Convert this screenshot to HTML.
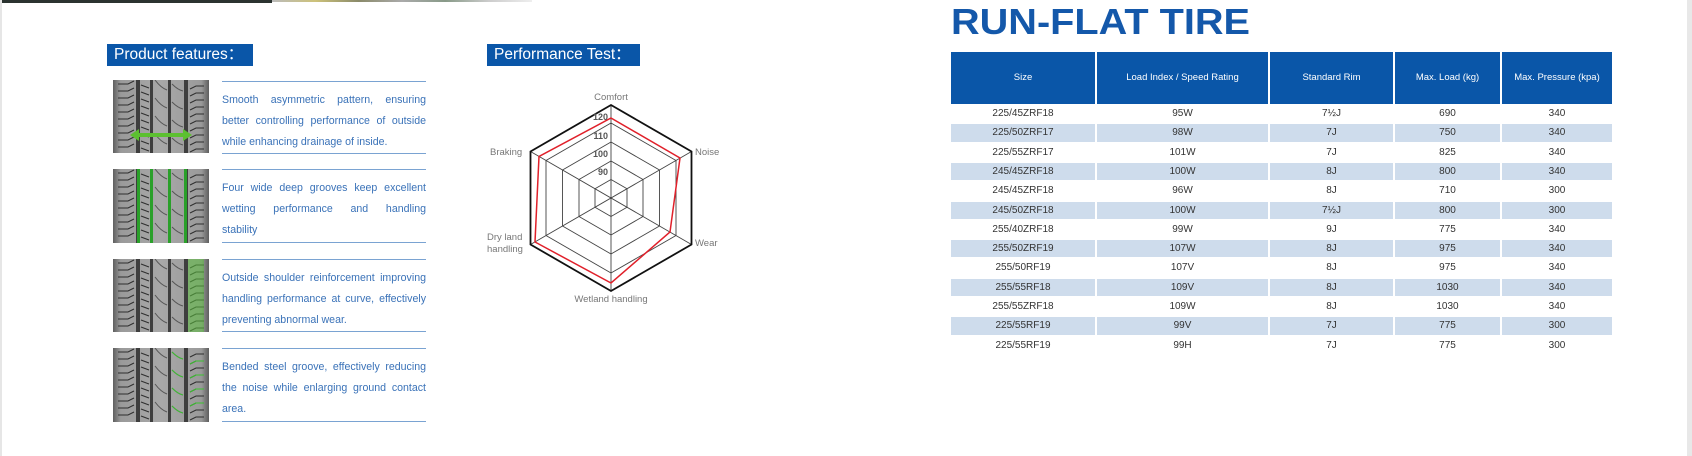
<!DOCTYPE html>
<html><head><meta charset="utf-8"><style>
*{margin:0;padding:0;box-sizing:border-box}
body{width:1692px;height:456px;background:#fff;position:relative;overflow:hidden;font-family:"Liberation Sans",Arial,sans-serif}
.abs{position:absolute}
.hdr{position:absolute;background:#0a56a8;color:#fff;font-size:15.5px;line-height:22px;padding-left:7px;height:22px}
.txt{position:absolute;left:222px;width:204px;border-top:1.5px solid #7aa3d2;border-bottom:1.5px solid #7aa3d2;color:#3a72b8;font-size:10.6px;line-height:21px;padding-top:8px}
.txt div{white-space:nowrap}
.txt .j{text-align:justify;text-align-last:justify;white-space:normal}
.tr{position:absolute;left:951px;width:661px;height:19.3px;font-size:10px;color:#333}
.tr div{position:absolute;top:0;height:100%;text-align:center;line-height:19px}
.sh div{background:#cedcec;top:1px;height:calc(100% - 2px);line-height:17px}
.c1{left:0;width:144px}.c2{left:146px;width:171px}.c3{left:319px;width:123px}.c4{left:444px;width:105px}.c5{left:551px;width:110px}
.th{position:absolute;top:52px;height:52px;background:#0a56a8;color:#fff;font-size:9.5px;text-align:center;line-height:52px}
</style></head><body>
<div class="abs" style="left:0;top:0;width:2px;height:456px;background:#e6e6e6"></div>
<div class="abs" style="left:1687px;top:0;width:5px;height:456px;background:#e8e8e8"></div>
<div class="abs" style="left:2px;top:0;width:270px;height:3px;background:#2b3330"></div>
<div class="abs" style="left:272px;top:0;width:260px;height:2px;background:linear-gradient(90deg,#bbb,#cdc27a,#8a8a6a,#aaa,#889a88,#ccc,#eee)"></div>

<svg width="0" height="0" style="position:absolute">
<defs>
<linearGradient id="tg" x1="0" x2="1"><stop offset="0" stop-color="#5e5e5e"/><stop offset=".08" stop-color="#9a9a9a"/><stop offset=".5" stop-color="#a8a8a8"/><stop offset=".92" stop-color="#9a9a9a"/><stop offset="1" stop-color="#5e5e5e"/></linearGradient>
<g id="tire">
<rect width="96" height="74" fill="url(#tg)"/>
<g fill="#3e3e3e"><rect x="23" width="4" height="74"/><rect x="37" width="3" height="74"/><rect x="55" width="3" height="74"/><rect x="71" width="4" height="74"/></g>
<g stroke="#2e2e2e" stroke-width="1" fill="none">
<path d="M5 4h10l6-3M5 11h10l6-3M5 18h10l6-3M5 25h10l6-3M5 32h10l6-3M5 39h10l6-3M5 46h10l6-3M5 53h10l6-3M5 60h10l6-3M5 67h10l6-3"/>
<path d="M91 6h-8l-6 3M91 13h-8l-6 3M91 20h-8l-6 3M91 27h-8l-6 3M91 34h-8l-6 3M91 41h-8l-6 3M91 48h-8l-6 3M91 55h-8l-6 3M91 62h-8l-6 3M91 69h-8l-6 3"/>
<path d="M28 5l8 3M28 12l8 3M28 19l8 3M28 26l8 3M28 33l8 3M28 40l8 3M28 47l8 3M28 54l8 3M28 61l8 3M28 68l8 3"/>
<path d="M42 0q6 8 12 10M42 18q6 8 12 10M42 36q6 8 12 10M42 54q6 8 12 10" stroke="#555"/>
<path d="M59 4q6 6 11 7M59 22q6 6 11 7M59 40q6 6 11 7M59 58q6 6 11 7" stroke="#555"/>
</g>
</g>
</defs></svg>

<div class="hdr" style="left:107px;top:44px;width:146px">Product features：</div>
<div class="hdr" style="left:487px;top:44px;width:153px">Performance Test：</div>

<svg class="abs" style="left:113px;top:80px" width="96" height="73"><use href="#tire"/>
<path d="M22 55h52" stroke="#5cc030" stroke-width="4"/><path d="M17 55l9-6v12zM79 55l-9-6v12z" fill="#5cc030"/></svg>
<svg class="abs" style="left:113px;top:169px" width="96" height="74"><use href="#tire"/>
<g fill="#2aa02a"><rect x="24" width="3" height="74"/><rect x="37" width="3" height="74"/><rect x="55" width="3" height="74"/><rect x="71" width="3" height="74"/></g></svg>
<svg class="abs" style="left:113px;top:259px" width="96" height="73"><use href="#tire"/>
<rect x="75" width="16" height="73" fill="#5cc040" opacity=".55"/></svg>
<svg class="abs" style="left:113px;top:348px" width="96" height="74"><use href="#tire"/>
<g stroke="#3cc030" fill="none" stroke-width="1"><path d="M59 4q6 6 11 7M59 22q6 6 11 7M59 40q6 6 11 7M59 58q6 6 11 7M91 13h-8l-6 3M91 27h-8l-6 3M91 41h-8l-6 3M91 55h-8l-6 3"/></g></svg>

<div class="txt" style="top:81px;height:73px"><div class="j">Smooth asymmetric pattern, ensuring</div><div class="j">better controlling performance of outside</div><div>while enhancing drainage of inside.</div></div>
<div class="txt" style="top:169px;height:74px"><div class="j">Four wide deep grooves keep excellent</div><div class="j">wetting performance and handling</div><div>stability</div></div>
<div class="txt" style="top:259px;height:73px"><div class="j">Outside shoulder reinforcement improving</div><div class="j">handling performance at curve, effectively</div><div>preventing abnormal wear.</div></div>
<div class="txt" style="top:348px;height:74px"><div class="j">Bended steel groove, effectively reducing</div><div class="j">the noise while enlarging ground contact</div><div>area.</div></div>

<svg class="abs" style="left:470px;top:85px" width="270" height="225" font-family="Liberation Sans, Arial, sans-serif">
<g transform="translate(141,113)">
<g fill="none" stroke="#444" stroke-width="0.9">
<polygon points="0,-18.5 16,-9.25 16,9.25 0,18.5 -16,9.25 -16,-9.25"/>
<polygon points="0,-37 32,-18.5 32,18.5 0,37 -32,18.5 -32,-18.5"/>
<polygon points="0,-56 48.5,-28 48.5,28 0,56 -48.5,28 -48.5,-28"/>
<polygon points="0,-75 65,-37.5 65,37.5 0,75 -65,37.5 -65,-37.5"/>
<path d="M0,-93V93M-80.5,-46.5L80.5,46.5M-80.5,46.5L80.5,-46.5"/>
</g>
<polygon points="0,-93 80.5,-46.5 80.5,46.5 0,93 -80.5,46.5 -80.5,-46.5" fill="none" stroke="#111" stroke-width="1.8"/>
<polygon points="0,-80 69,-40 59,34 0,85 -76,44 -72,-41.5" fill="none" stroke="#e0202a" stroke-width="1.5"/>
<g font-size="9" font-weight="bold" fill="#555" text-anchor="end">
<text x="-3" y="-78">120</text><text x="-3" y="-59">110</text><text x="-3" y="-41">100</text><text x="-3" y="-23">90</text></g>
</g>
<g font-size="9.5" fill="#777">
<text x="141" y="15" text-anchor="middle">Comfort</text>
<text x="141" y="217" text-anchor="middle">Wetland handling</text>
<text x="20" y="70">Braking</text>
<text x="225" y="70">Noise</text>
<text x="225" y="161">Wear</text>
<text x="17" y="155">Dry land</text>
<text x="17" y="167">handling</text>
</g>
</svg>

<svg class="abs" style="left:950px;top:4px" width="310" height="34"><text x="1" y="30" font-family="Liberation Sans, Arial, sans-serif" font-weight="bold" font-size="36" fill="#1458aa" textLength="299" lengthAdjust="spacingAndGlyphs">RUN-FLAT TIRE</text></svg>

<div class="th" style="left:951px;width:144px">Size</div>
<div class="th" style="left:1097px;width:171px">Load Index / Speed Rating</div>
<div class="th" style="left:1270px;width:123px">Standard Rim</div>
<div class="th" style="left:1395px;width:105px">Max. Load (kg)</div>
<div class="th" style="left:1502px;width:110px">Max. Pressure (kpa)</div>

<div class="tr" style="top:104px"><div class="c1">225/45ZRF18</div><div class="c2">95W</div><div class="c3">7½J</div><div class="c4">690</div><div class="c5">340</div></div>
<div class="tr sh" style="top:123.3px"><div class="c1">225/50ZRF17</div><div class="c2">98W</div><div class="c3">7J</div><div class="c4">750</div><div class="c5">340</div></div>
<div class="tr" style="top:142.6px"><div class="c1">225/55ZRF17</div><div class="c2">101W</div><div class="c3">7J</div><div class="c4">825</div><div class="c5">340</div></div>
<div class="tr sh" style="top:161.9px"><div class="c1">245/45ZRF18</div><div class="c2">100W</div><div class="c3">8J</div><div class="c4">800</div><div class="c5">340</div></div>
<div class="tr" style="top:181.2px"><div class="c1">245/45ZRF18</div><div class="c2">96W</div><div class="c3">8J</div><div class="c4">710</div><div class="c5">300</div></div>
<div class="tr sh" style="top:200.5px"><div class="c1">245/50ZRF18</div><div class="c2">100W</div><div class="c3">7½J</div><div class="c4">800</div><div class="c5">300</div></div>
<div class="tr" style="top:219.8px"><div class="c1">255/40ZRF18</div><div class="c2">99W</div><div class="c3">9J</div><div class="c4">775</div><div class="c5">340</div></div>
<div class="tr sh" style="top:239.1px"><div class="c1">255/50ZRF19</div><div class="c2">107W</div><div class="c3">8J</div><div class="c4">975</div><div class="c5">340</div></div>
<div class="tr" style="top:258.4px"><div class="c1">255/50RF19</div><div class="c2">107V</div><div class="c3">8J</div><div class="c4">975</div><div class="c5">340</div></div>
<div class="tr sh" style="top:277.7px"><div class="c1">255/55RF18</div><div class="c2">109V</div><div class="c3">8J</div><div class="c4">1030</div><div class="c5">340</div></div>
<div class="tr" style="top:297px"><div class="c1">255/55ZRF18</div><div class="c2">109W</div><div class="c3">8J</div><div class="c4">1030</div><div class="c5">340</div></div>
<div class="tr sh" style="top:316.3px"><div class="c1">225/55RF19</div><div class="c2">99V</div><div class="c3">7J</div><div class="c4">775</div><div class="c5">300</div></div>
<div class="tr" style="top:335.6px"><div class="c1">225/55RF19</div><div class="c2">99H</div><div class="c3">7J</div><div class="c4">775</div><div class="c5">300</div></div>
</body>
</html>
